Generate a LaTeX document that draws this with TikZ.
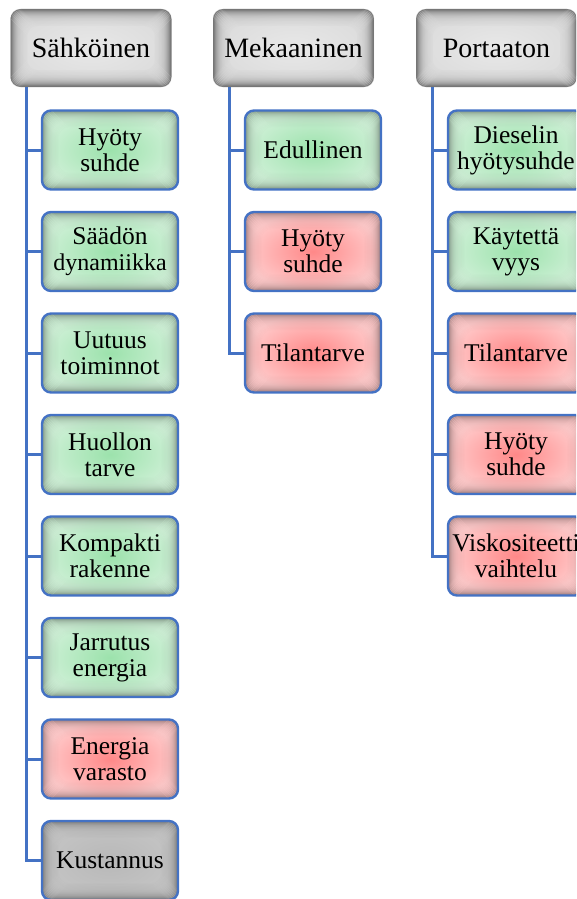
\documentclass[tikz,border=0pt]{standalone}
\usepackage{fontspec}
\setmainfont{Liberation Serif}
\definecolor{linkblue}{RGB}{68,114,196}
\definecolor{hdrin}{RGB}{232,232,232}
\definecolor{hdrout}{RGB}{220,220,220}
\definecolor{greenin}{RGB}{156,226,172}
\definecolor{greenout}{RGB}{206,240,214}
\definecolor{redin}{RGB}{255,136,136}
\definecolor{redout}{RGB}{255,202,202}
\definecolor{grayin}{RGB}{184,184,184}
\definecolor{grayout}{RGB}{196,196,196}
\tikzset{
  % radial fill plus a soft dark band along the inside of the outline
  surface/.style n args={3}{path picture={
    \shade[inner color=#1,outer color=#2]
      (path picture bounding box.south west) rectangle (path picture bounding box.north east);
    \foreach \d in {0.5,1.5,...,16.5}{
      \pgfmathsetmacro\op{#3*0.36*exp(-\d/4.5)}
      \draw[line width=1.1pt,draw=black,opacity=\op,rounded corners=10pt]
        ([xshift=\d pt,yshift=\d pt]path picture bounding box.south west) rectangle
        ([xshift=-\d pt,yshift=-\d pt]path picture bounding box.north east);}
  }},
  header/.style={rounded corners=9pt, minimum width=161pt, minimum height=78pt,
    inner sep=0pt, font=\fontsize{28}{30}\selectfont, surface={hdrin}{hdrout}{1.35}},
  item/.style={draw=linkblue, line width=2.4pt, rounded corners=9pt,
    minimum width=136pt, minimum height=79pt, inner sep=0pt, align=center,
    font=\fontsize{25.5}{26}\selectfont},
  good/.style={item, surface={greenin}{greenout}{1}},
  bad/.style={item, surface={redin}{redout}{1}},
  neutral/.style={item, surface={grayin}{grayout}{1}},
  conn/.style={draw=linkblue, line width=3pt},
}
\begin{document}
\begin{tikzpicture}[x=1pt,y=-1pt]
\useasboundingbox (0,0) rectangle (576,899);
\clip (0,0) rectangle (576,899);

% category headers
\node[header] (h1) at (91,48) {Sähköinen};
\node[header] (h2) at (293.5,48) {Mekaaninen};
\node[header] (h3) at (496.5,48) {Portaaton};

% trunk starting points below the headers
\coordinate (t1) at (26,87);
\coordinate (t2) at (229,87);
\coordinate (t3) at (432,87);

% electric
\node[good]    (a1) at (110,150)   {Hyöty\\suhde};
\node[good]    (a2) at (110,251.5) {Säädön\\{\fontsize{24}{26}\selectfont dynamiikka}};
\node[good]    (a3) at (110,353)   {Uutuus\\toiminnot};
\node[good]    (a4) at (110,454.5) {Huollon\\tarve};
\node[good]    (a5) at (110,556)   {Kompakti\\rakenne};
\node[good]    (a6) at (110,657.5) {Jarrutus\\energia};
\node[bad]     (a7) at (110,759)   {Energia\\varasto};
\node[neutral] (a8) at (110,860.5) {Kustannus};

% mechanical
\node[good] (b1) at (313,150)   {Edullinen};
\node[bad]  (b2) at (313,251.5) {Hyöty\\suhde};
\node[bad]  (b3) at (313,353)   {Tilantarve};

% stepless
\node[good] (c1) at (516,150)   {Dieselin\\hyötysuhde};
\node[good] (c2) at (516,251.5) {Käytettä\\vyys};
\node[bad]  (c3) at (516,353)   {Tilantarve};
\node[bad]  (c4) at (516,454.5) {Hyöty\\suhde};
\node[bad]  (c5) at (516,556)   {Viskositeetti\\vaihtelu};

% connectors
\foreach \n in {a1,a2,a3,a4,a5,a6,a7,a8} \draw[conn] (t1) |- (\n.west);
\foreach \n in {b1,b2,b3} \draw[conn] (t2) |- (\n.west);
\foreach \n in {c1,c2,c3,c4,c5} \draw[conn] (t3) |- (\n.west);
\end{tikzpicture}
\end{document}
